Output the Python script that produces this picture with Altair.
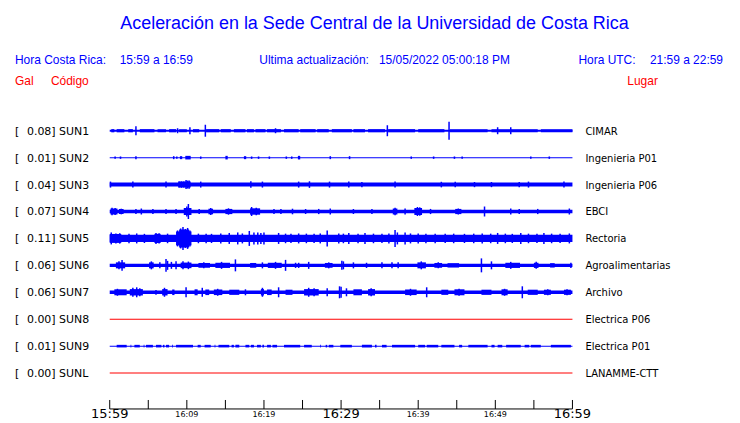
import altair as alt
import pandas as pd

# ---------------- data ----------------
stations = ["SUN1", "SUN2", "SUN3", "SUN4", "SUN5", "SUN6", "SUN7", "SUN8", "SUN9", "SUNL"]
gal = ["0.08", "0.01", "0.04", "0.07", "0.11", "0.06", "0.06", "0.00", "0.01", "0.00"]
places = ["CIMAR", "Ingenieria P01", "Ingenieria P06", "EBCI", "Rectoria",
          "Agroalimentarias", "Archivo", "Electrica P06", "Electrica P01", "LANAMME-CTT"]
trace_color = ["#0000ff"] * 7 + ["#ff0000", "#0000ff", "#ff0000"]

# half-amplitude of the background noise band of each trace
base_amp = [1.0, 0.5, 2.0, 1.8, 3.7, 1.6, 1.8, 0.5, 0.5, 0.5]

# stretches of stronger shaking: (start minute, end minute, half-amplitude)
sun1_blocks = [(0.2, 0.6, 1.6), (0.9, 1.9, 1.6), (2.4, 3.0, 1.6), (3.9, 5.8, 1.6), (6.2, 7.3, 1.6),
               (7.7, 8.6, 1.6), (9.0, 10.0, 1.6), (10.8, 11.6, 1.6), (12.5, 14.2, 1.6), (14.4, 15.7, 1.6),
               (16.1, 17.6, 1.6), (17.8, 18.7, 1.6), (18.9, 20.2, 1.6), (20.4, 22.2, 1.6), (22.6, 24.5, 1.6),
               (24.7, 26.7, 1.6), (26.9, 28.4, 1.6), (28.8, 31.4, 1.6), (31.6, 33.1, 1.6), (33.5, 35.7, 1.6),
               (36.1, 39.6, 1.6), (40.0, 43.4, 1.6), (44.1, 49.0, 1.6), (49.5, 55.5, 1.6), (55.9, 60.0, 1.6)]
sun2_blocks = [(0.6, 0.8, 1.2), (1.3, 1.5, 1.2), (3.3, 3.5, 1.5), (8.2, 8.4, 1.5), (8.6, 8.8, 1.2),
               (9.1, 9.4, 1.5), (9.8, 10.5, 1.8), (11.7, 11.9, 1.2), (15.0, 15.3, 1.8), (17.4, 17.7, 1.5),
               (18.3, 18.5, 1.2), (19.2, 19.4, 1.2), (20.6, 20.8, 1.2), (22.8, 23.0, 1.2), (23.5, 23.7, 1.2),
               (24.4, 24.7, 1.8), (28.5, 28.7, 1.5), (31.0, 31.2, 1.5), (39.0, 39.2, 1.2), (41.9, 42.1, 1.2),
               (44.6, 44.8, 1.2), (45.6, 45.8, 1.2), (54.5, 54.7, 1.2), (56.9, 57.1, 1.2)]
sun3_blocks = [(8.9, 10.5, 3.0)]
sun4_blocks = [(0.1, 1.0, 3.0), (1.2, 1.8, 2.5), (9.6, 10.6, 3.5), (12.8, 13.4, 2.8), (15.0, 15.9, 2.6),
               (18.2, 19.5, 3.2), (36.7, 37.3, 3.0), (39.5, 40.5, 3.5), (44.8, 45.6, 2.6)]
sun5_blocks = [(0.0, 1.5, 4.5), (5.8, 6.6, 4.6), (8.6, 10.6, 7.0), (9.0, 10.3, 9.0)]
sun6_blocks = [(0.8, 2.0, 3.0), (5.1, 5.7, 3.0), (9.2, 10.6, 2.8), (11.5, 13.0, 2.4), (13.7, 15.6, 2.6),
               (18.2, 19.0, 2.4), (20.5, 22.3, 2.6), (27.9, 28.9, 2.4), (39.9, 41.0, 3.0), (42.1, 43.1, 2.4),
               (43.8, 45.3, 2.2), (51.3, 53.2, 2.6), (55.0, 55.6, 2.6), (57.1, 57.7, 2.2)]
sun7_blocks = [(0.6, 2.2, 3.0), (2.6, 4.3, 3.2), (6.8, 7.5, 3.2), (8.1, 8.4, 2.8), (11.0, 11.4, 3.0),
               (12.4, 12.9, 2.8), (13.5, 14.6, 2.8), (15.5, 16.8, 2.6), (19.6, 20.0, 3.2), (20.4, 21.0, 2.8),
               (22.8, 23.7, 2.6), (25.2, 27.1, 3.2), (31.6, 32.7, 3.0), (33.5, 34.4, 3.2), (38.3, 39.8, 2.8),
               (43.0, 43.9, 2.6), (44.7, 46.0, 3.0), (48.2, 49.5, 2.6), (50.8, 51.6, 3.0), (54.2, 55.5, 2.6),
               (56.3, 57.2, 2.6), (58.9, 59.8, 2.6)]
sun8_blocks = []
sun9_blocks = [(0.9, 2.2, 1.3), (2.7, 2.8, 1.3), (3.2, 3.9, 1.3), (4.4, 4.5, 1.3), (4.7, 5.6, 1.3),
               (6.0, 6.7, 1.3), (6.9, 7.1, 1.3), (7.3, 7.7, 1.3), (8.1, 8.2, 1.3), (8.6, 10.8, 1.3),
               (11.4, 11.8, 1.3), (12.3, 13.1, 1.3), (13.6, 13.7, 1.3), (14.1, 15.5, 1.3), (15.8, 16.1, 1.3),
               (16.3, 16.8, 1.3), (17.6, 18.1, 1.3), (18.3, 18.7, 1.3), (19.1, 19.6, 1.3), (19.8, 20.0, 1.3),
               (20.4, 20.9, 1.3), (21.1, 21.7, 1.3), (22.6, 24.7, 1.3), (25.2, 26.2, 1.3), (27.3, 27.4, 1.3),
               (28.0, 28.2, 1.3), (28.4, 29.0, 1.3), (29.9, 31.4, 1.3), (32.7, 34.0, 1.3), (34.4, 34.6, 1.3),
               (35.3, 35.9, 1.3), (36.6, 39.6, 1.3), (40.0, 40.9, 1.3), (41.1, 42.6, 1.3), (43.0, 44.7, 1.3),
               (45.3, 45.7, 1.3), (46.5, 49.0, 1.3), (49.5, 49.9, 1.3), (50.3, 50.9, 1.3), (51.4, 53.3, 1.3),
               (53.8, 54.4, 1.3), (54.6, 55.9, 1.3), (57.2, 59.8, 1.3)]
sunl_blocks = []

# single peaks: (minute, half-amplitude)
sun1_spikes = [(3.4, 4.5), (8.8, 2.5), (10.4, 3.5), (12.4, 6.0), (21.5, 2.5), (36.0, 5.5),
               (44.0, 9.0), (50.3, 3.5), (52.0, 3.5)]
sun2_spikes = []
sun3_spikes = [(0.1, 3.0), (3.0, 3.0), (7.3, 3.0), (9.0, 3.0), (9.3, 3.2), (9.6, 3.0), (9.9, 4.5),
               (10.1, 4.0), (10.3, 4.2), (11.8, 3.0), (18.3, 3.3), (19.8, 3.0), (24.5, 3.0), (25.9, 3.3),
               (28.5, 3.0), (31.0, 3.0), (32.7, 2.6), (37.0, 3.0), (43.0, 2.8), (44.8, 2.8), (47.3, 2.6),
               (49.5, 2.6), (53.1, 2.6), (54.3, 3.0), (58.9, 3.0)]
sun4_spikes = [(0.3, 3.8), (0.7, 3.5), (1.5, 2.8), (3.4, 2.6), (4.1, 3.0), (5.6, 2.6), (7.3, 2.6),
               (8.6, 2.6), (10.0, 5.0), (10.2, 7.5), (11.6, 2.6), (13.1, 3.5), (15.4, 3.2), (18.4, 4.5),
               (19.0, 3.8), (21.3, 2.6), (22.2, 2.6), (23.7, 2.8), (25.4, 2.5), (27.1, 2.6), (28.6, 3.0),
               (31.6, 2.5), (34.0, 2.5), (37.0, 3.8), (38.3, 3.0), (39.9, 4.5), (40.2, 4.2), (41.6, 2.6),
               (45.2, 3.0), (48.6, 5.0), (52.0, 3.0), (53.1, 2.6), (55.5, 2.6), (59.6, 3.0)]
sun5_spikes = [(0.2, 6.0), (0.8, 5.0), (1.3, 5.2), (2.5, 4.8), (3.5, 5.0), (4.5, 4.6), (6.0, 5.5),
               (6.4, 5.2), (7.5, 4.8), (8.8, 8.0), (9.2, 10.0), (9.5, 11.5), (9.8, 9.5), (10.1, 10.5),
               (10.4, 8.0), (11.5, 4.8), (12.5, 4.8), (13.2, 4.6), (14.4, 5.0), (15.5, 5.5), (16.6, 6.0),
               (17.2, 5.0), (18.1, 7.5), (18.7, 6.0), (19.2, 6.0), (19.6, 5.5), (20.0, 6.0), (21.9, 5.5),
               (22.8, 4.8), (23.5, 4.6), (24.5, 5.0), (25.5, 4.8), (26.5, 4.6), (27.3, 5.0), (28.2, 8.0),
               (29.7, 5.0), (30.3, 4.8), (31.0, 5.5), (32.2, 4.8), (33.1, 5.5), (34.2, 4.8), (35.3, 4.6),
               (36.2, 5.0), (37.0, 8.5), (37.3, 6.0), (38.3, 6.0), (39.0, 5.0), (40.0, 5.0), (41.0, 4.8),
               (42.2, 4.8), (43.5, 4.6), (44.6, 4.8), (46.0, 4.6), (47.2, 4.8), (48.3, 5.0), (49.4, 4.8),
               (50.3, 5.5), (51.3, 4.8), (52.2, 4.6), (53.3, 5.5), (54.3, 4.8), (55.4, 4.6), (56.3, 5.5),
               (57.3, 4.8), (58.4, 4.6), (59.6, 5.0)]
sun6_spikes = [(1.2, 4.0), (1.6, 5.3), (5.4, 4.0), (6.5, 3.0), (7.3, 6.5), (7.5, 4.5), (8.0, 3.5),
               (8.6, 4.0), (9.5, 4.0), (10.2, 3.8), (12.2, 3.0), (14.5, 3.5), (16.3, 6.0), (19.8, 3.0),
               (21.5, 3.5), (22.8, 5.5), (24.1, 2.6), (24.5, 2.6), (25.8, 3.5), (28.4, 3.0), (30.1, 4.5),
               (30.3, 4.0), (31.6, 3.0), (33.3, 2.6), (35.3, 3.0), (36.6, 3.0), (37.4, 3.0), (40.4, 4.0),
               (42.6, 3.0), (48.2, 7.0), (49.5, 4.0), (52.0, 3.5), (55.3, 3.5), (59.8, 2.6)]
sun7_spikes = [(1.0, 3.5), (3.0, 4.5), (3.5, 5.0), (3.9, 4.0), (6.0, 2.4), (7.1, 4.5), (9.9, 5.0),
               (12.0, 4.5), (14.0, 3.5), (17.6, 3.0), (19.8, 4.5), (21.9, 5.0), (25.8, 4.5), (26.5, 4.0),
               (28.2, 4.0), (29.8, 6.0), (30.0, 5.5), (30.7, 4.0), (33.9, 4.0), (39.0, 3.5), (41.1, 5.0),
               (45.3, 3.5), (51.2, 3.5), (53.5, 6.0), (56.8, 3.0), (59.3, 3.0)]
sun8_spikes = []
sun9_spikes = []
sunl_spikes = []

all_blocks = [sun1_blocks, sun2_blocks, sun3_blocks, sun4_blocks, sun5_blocks,
              sun6_blocks, sun7_blocks, sun8_blocks, sun9_blocks, sunl_blocks]
all_spikes = [sun1_spikes, sun2_spikes, sun3_spikes, sun4_spikes, sun5_spikes,
              sun6_spikes, sun7_spikes, sun8_spikes, sun9_spikes, sunl_spikes]

# time axis (minutes after 15:59)
tick_minutes = list(range(0, 61, 5))
tick_labels = ["15:59", "", "16:09", "", "16:19", "", "16:29", "", "16:39", "", "16:49", "", "16:59"]
major_labels = ["15:59", "16:29", "16:59"]

# ---------------- layout ----------------
ROW = 27          # vertical spacing of the traces, in y-scale units
W, H = 464, 309
BLUE, RED = "#0000ff", "#ff0000"

xs = alt.Scale(domain=[0, 60], nice=False, zero=False)
ys = alt.Scale(domain=[-30.5, 278.5], nice=False, zero=False, reverse=True)

base_df = pd.DataFrame({
    "t0": 0, "t1": 60,
    "lo": [i * ROW - a for i, a in enumerate(base_amp)],
    "hi": [i * ROW + a for i, a in enumerate(base_amp)],
    "color": trace_color,
})
blk_rows, spk_rows = [], []
for i, (bl, sp) in enumerate(zip(all_blocks, all_spikes)):
    for t0, t1, a in bl:
        blk_rows.append({"t0": t0, "t1": t1, "lo": i * ROW - a, "hi": i * ROW + a, "color": trace_color[i]})
    for t, a in sp:
        spk_rows.append({"t": t, "lo": i * ROW - a, "hi": i * ROW + a, "color": trace_color[i]})
blk_df = pd.DataFrame(blk_rows)
spk_df = pd.DataFrame(spk_rows)

lab_df = pd.DataFrame({
    "row": [i * ROW for i in range(len(stations))],
    "left": [f"{g}] {s}" for g, s in zip(gal, stations)],
    "place": places,
})
tick_df = pd.DataFrame({"t": tick_minutes, "label": tick_labels})
tick_df["major"] = tick_df["label"].isin(major_labels)
axis_df = pd.DataFrame({"t0": [tick_minutes[0]], "t1": [tick_minutes[-1]]})

X0 = alt.X("t0:Q", scale=xs, axis=None)
Y_LO = alt.Y("lo:Q", scale=ys, axis=None)

base_layer = alt.Chart(base_df).mark_rect().encode(
    x=X0, x2="t1:Q", y=Y_LO, y2="hi:Q", color=alt.Color("color:N", scale=None))
blk_layer = alt.Chart(blk_df).mark_rect().encode(
    x=X0, x2="t1:Q", y=Y_LO, y2="hi:Q", color=alt.Color("color:N", scale=None))
spk_layer = alt.Chart(spk_df).mark_rule(strokeWidth=1.5).encode(
    x=alt.X("t:Q", scale=xs, axis=None), y=Y_LO, y2="hi:Q", color=alt.Color("color:N", scale=None))

FONT_SMALL = "DejaVu Sans"
bracket = alt.Chart(lab_df).mark_text(text="[", align="left", baseline="alphabetic", dy=4,
                                      font=FONT_SMALL, fontSize=11, color="black").encode(
    x=alt.value(-95), y=alt.Y("row:Q", scale=ys, axis=None))
left_lab = alt.Chart(lab_df).mark_text(align="left", baseline="alphabetic", dy=4,
                                       font=FONT_SMALL, fontSize=11, color="black").encode(
    x=alt.value(-83), y=alt.Y("row:Q", scale=ys, axis=None), text="left:N")
right_lab = alt.Chart(lab_df).mark_text(align="left", baseline="alphabetic", dy=4,
                                        font=FONT_SMALL, fontSize=10, color="black").encode(
    x=alt.value(477), y=alt.Y("row:Q", scale=ys, axis=None), text="place:N")

axis_line = alt.Chart(axis_df).mark_rule(color="black", strokeWidth=1).encode(
    x=alt.X("t0:Q", scale=xs, axis=None), x2="t1:Q", y=alt.value(H + 0.5))
ticks = alt.Chart(tick_df).mark_rule(color="black", strokeWidth=1).encode(
    x=alt.X("t:Q", scale=xs, axis=None), y=alt.value(H - 8.5), y2=alt.value(H + 0.5))
major_txt = alt.Chart(tick_df).transform_filter("datum.major").mark_text(
    align="center", baseline="alphabetic", font=FONT_SMALL, fontSize=13, color="black").encode(
    x=alt.X("t:Q", scale=xs, axis=None), y=alt.value(H + 10), text="label:N")
minor_txt = alt.Chart(tick_df).transform_filter("!datum.major && datum.label != ''").mark_text(
    align="center", baseline="alphabetic", font=FONT_SMALL, fontSize=8, color="black").encode(
    x=alt.X("t:Q", scale=xs, axis=None), y=alt.value(H + 9), text="label:N")


def label(txt, x, y, size, color, align="left"):
    return alt.Chart(alt.Data(values=[{}])).mark_text(
        text=txt, align=align, baseline="alphabetic", font="Liberation Sans",
        fontSize=size, color=color).encode(x=alt.value(x), y=alt.value(y))


header = [
    label("Aceleración en la Sede Central de la Universidad de Costa Rica", 265.5, -71.5, 18, BLUE, "center"),
    label("Hora Costa Rica:", -95, -36, 12, BLUE),
    label("15:59 a 16:59", 10, -36, 12, BLUE),
    label("Ultima actualización:", 150, -36, 12, BLUE),
    label("15/05/2022 05:00:18 PM", 270, -36, 12, BLUE),
    label("Hora UTC:", 470, -36, 12, BLUE),
    label("21:59 a 22:59", 615, -36, 12, BLUE, "right"),
    label("Gal", -95, -15, 12, RED),
    label("Código", -59, -15, 12, RED),
    label("Lugar", 519, -15, 12, RED),
]

chart = alt.layer(
    base_layer, blk_layer, spk_layer, bracket, left_lab, right_lab,
    axis_line, ticks, major_txt, minor_txt, *header
).properties(
    width=W, height=H,
    autosize=alt.AutoSizeParams(type="none"),
    padding={"left": 102, "top": 92, "right": 160, "bottom": 12},
).configure_view(stroke=None)

chart.save("out.html", embed_options={"renderer": "svg", "actions": False})
